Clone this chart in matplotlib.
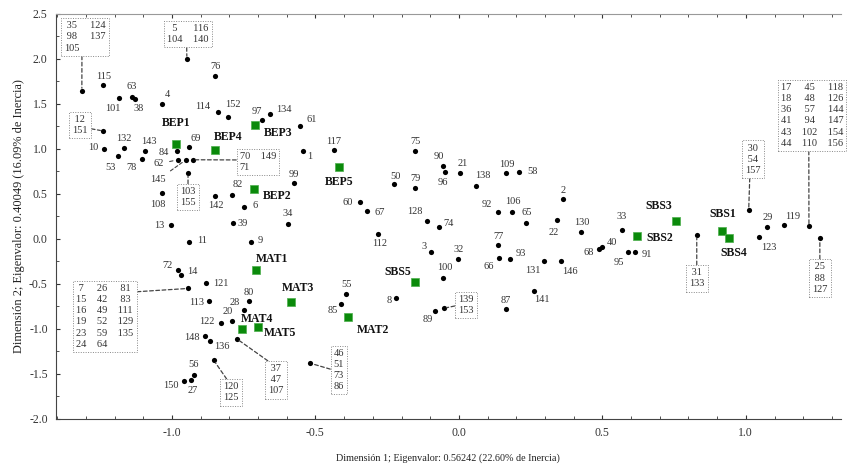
import matplotlib.pyplot as plt
from matplotlib.ticker import MultipleLocator

plt.rcParams['font.family'] = ['Liberation Serif', 'DejaVu Serif']

# puntos individuales (casos)
pt_ids = ['115', '101', '63', '38', '4', '76', '114', '152', '97', '134', '61', '1',
          '117', '99', '6', '34', '9', '39', '82', '142', '108', '84', '69', '10',
          '132', '53', '143', '78', '13', '11', '72', '14', '121', '113', '80', '28',
          '20', '122', '148', '136', '56', '27', '150', '55', '85', '8', '100', '32',
          '89', '66', '87', '75', '90', '96', '21', '138', '109', '58', '79', '50',
          '60', '67', '112', '128', '74', '3', '92', '106', '65', '77', '93', '2',
          '22', '130', '131', '146', '141', '33', '68', '40', '95', '91', '123', '29',
          '119', '62', '145']
pt_x = [-1.240, -1.185, -1.139, -1.129, -1.035, -0.850, -0.840, -0.805, -0.686, -0.659,
        -0.554, -0.543, -0.436, -0.575, -0.749, -0.596, -0.725, -0.787, -0.791, -0.850,
        -1.035, -0.983, -0.941, -1.237, -1.167, -1.188, -1.094, -1.105, -1.003, -0.941,
        -0.979, -0.969, -0.882, -0.871, -0.732, -0.749, -0.791, -0.829, -0.885, -0.868,
        -0.923, -0.934, -0.958, -0.394, -0.411, -0.220, -0.056, -0.003, -0.084, 0.139,
        0.164, -0.153, -0.056, -0.049, 0.003, 0.059, 0.164, 0.209, -0.153, -0.226,
        -0.345, -0.321, -0.282, -0.111, -0.070, -0.098, 0.136, 0.185, 0.233, 0.136,
        0.178, 0.362, 0.341, 0.425, 0.296, 0.355, 0.261, 0.568, 0.488, 0.498,
        0.589, 0.613, 1.045, 1.073, 1.132, -0.979, -0.951]
pt_y = [1.71, 1.57, 1.58, 1.56, 1.50, 1.81, 1.41, 1.36, 1.32, 1.39,
        1.26, 0.98, 0.99, 0.62, 0.36, 0.17, -0.03, 0.18, 0.49, 0.48,
        0.51, 0.98, 1.02, 1.00, 1.01, 0.92, 0.98, 0.89, 0.15, -0.03,
        -0.35, -0.40, -0.49, -0.69, -0.69, -0.79, -0.91, -0.93, -1.08, -1.13,
        -1.51, -1.57, -1.58, -0.61, -0.72, -0.66, -0.43, -0.22, -0.80, -0.21,
        -0.78, 0.98, 0.81, 0.74, 0.73, 0.59, 0.73, 0.74, 0.57, 0.61,
        0.41, 0.31, 0.06, 0.20, 0.13, -0.15, 0.30, 0.30, 0.18, -0.07,
        -0.22, 0.44, 0.21, 0.08, -0.25, -0.25, -0.58, 0.10, -0.11, -0.09,
        -0.15, -0.15, 0.02, 0.13, 0.15, 0.88, 0.88]

# posicion de las etiquetas (pixeles respecto al punto)
pt_off = {'115': (1, 9), '101': (-6, -11), '63': (0, 10), '38': (4, -10), '4': (5, 9),
          '76': (1, 10), '114': (-15, 6), '152': (5, 12), '97': (-5, 9), '134': (14, 4),
          '61': (12, 6), '1': (7, -6), '117': (0, 8), '99': (0, 9), '6': (11, 1),
          '34': (0, 10), '9': (9, 1), '39': (10, -1), '82': (6, 10), '142': (1, -10),
          '108': (-4, -11), '84': (-13, -2), '69': (7, 9), '10': (-11, 1), '132': (0, 10),
          '53': (-8, -11), '143': (4, 9), '78': (-10, -9), '13': (-12, 0), '11': (13, 1),
          '72': (-10, 5), '14': (11, 3), '121': (15, 0), '113': (-12, -1), '80': (0, 9),
          '28': (-9, 8), '20': (-4, 9), '122': (-14, 1), '148': (-13, -1), '136': (12, -6),
          '56': (0, 10), '27': (2, -10), '150': (-13, -4), '55': (1, 9), '85': (-8, -7),
          '8': (-7, -2), '100': (2, 10), '32': (1, 9), '89': (-7, -9), '66': (-10, -9),
          '87': (0, 9), '75': (1, 9), '90': (-4, 10), '96': (-2, -10), '21': (3, 10),
          '138': (7, 10), '109': (1, 9), '58': (14, 1), '79': (1, 9), '50': (1, 8),
          '60': (-12, 0), '67': (13, -1), '112': (2, -10), '128': (-12, 9), '74': (10, 4),
          '3': (-7, 6), '92': (-11, 7), '106': (1, 10), '65': (1, 10), '77': (1, 9),
          '93': (11, 5), '2': (0, 9), '22': (-3, -12), '130': (1, 9), '131': (-11, -9),
          '146': (9, -10), '141': (8, -8), '33': (0, 13), '68': (-10, -4), '40': (10, 5),
          '95': (-9, -10), '91': (12, -2), '123': (10, -10), '29': (1, 10), '119': (9, 9)}
dash_off = {'62': (-19, -4), '145': (-28, -20)}

# puntos con varios casos superpuestos (recuadros)
box_ids = [['35', '124', '98', '137', '105'],
           ['5', '116', '104', '140'],
           ['12', '151'],
           ['70', '149', '71'],
           ['103', '155'],
           ['7', '26', '81', '15', '42', '83', '16', '49', '111', '19', '52', '129',
            '23', '59', '135', '24', '64'],
           ['120', '125'],
           ['37', '47', '107'],
           ['46', '51', '73', '86'],
           ['139', '153'],
           ['31', '133'],
           ['30', '54', '157'],
           ['25', '88', '127'],
           ['17', '45', '118', '18', '48', '126', '36', '57', '144', '41', '94', '147',
            '43', '102', '154', '44', '110', '156']]
box_ncol = [2, 2, 1, 2, 1, 3, 1, 1, 1, 1, 1, 1, 1, 3]
box_x = [-1.314, -0.948, -1.240, -0.927, -0.944, -0.944, -0.854, -0.774, -0.519,
         -0.052, 0.829, 1.010, 1.258, 1.220]
box_y = [1.645, 2.00, 1.20, 0.88, 0.73, -0.55, -1.35, -1.11, -1.38,
         -0.77, 0.04, 0.32, 0.01, 0.14]
box_off = [(3, 54), (1, 25), (-23, 6), (65, -2), (0, -24), (-83, -28), (17, -32),
           (39, -41), (29, -7), (22, 3), (0, -43), (4, 51), (0, -40), (3, 111)]
box_rel = [(0.43, 0), (0.47, 0), (1, 0.34), (0, 0.59), (0.5, 1), (1, 0.88), (0.38, 1),
           (0.3, 1), (0, 0.5), (0, 0.5), (0.5, 1), (0.32, 0), (0.5, 1), (0.45, 0)]

# categorias (cuadrados verdes)
grp_names = ['BEP1', 'BEP4', 'BEP3', 'BEP5', 'BEP2', 'MAT1', 'MAT3', 'MAT4', 'MAT5',
             'MAT2', 'SBS5', 'SBS3', 'SBS2', 'SBS1', 'SBS4']
grp_x = [-0.986, -0.850, -0.711, -0.418, -0.714, -0.707, -0.585, -0.756, -0.700,
         -0.387, -0.153, 0.756, 0.620, 0.916, 0.941]
grp_y = [1.05, 0.99, 1.27, 0.80, 0.56, -0.34, -0.70, -1.00, -0.98,
         -0.87, -0.48, 0.20, 0.03, 0.09, 0.01]
grp_off = [(0, 21), (13, 13), (23, -8), (0, -15), (23, -7), (16, 11), (7, 14), (15, 10),
           (22, -6), (25, -13), (-17, 10), (-17, 15), (23, -2), (1, 17), (5, -15)]


def grid_text(ids, ncol):
    rows = [ids[i:i + ncol] for i in range(0, len(ids), ncol)]
    widths = [max(len(r[c]) for r in rows if c < len(r)) for c in range(ncol)]
    lines = []
    for r in rows:
        cells = []
        for c, s in enumerate(r):
            pad = ' ' * (widths[c] - len(s))
            cells.append(pad + s + pad)
        lines.append('    '.join(cells))
    return '\n'.join(lines)


fig = plt.figure(figsize=(8.49, 4.66), dpi=100)
ax = fig.add_axes([0.066, 0.101, 0.924, 0.869])

txt_col = '#333333'
ax.scatter(pt_x, pt_y, s=14, color='black', zorder=3, linewidths=0)
ax.scatter(box_x, box_y, s=14, color='black', zorder=3, linewidths=0)
ax.scatter(grp_x, grp_y, s=34, marker='s', color='#0b8a0b', edgecolors='#4caf4c',
           linewidths=0.5, zorder=3)

for name, x, y in zip(pt_ids, pt_x, pt_y):
    if name in pt_off:
        ax.annotate(name, (x, y), xytext=pt_off[name], textcoords='offset pixels',
                    ha='center', va='center', fontsize=7.5, color=txt_col)
    else:
        ax.annotate(name, (x, y), xytext=dash_off[name], textcoords='offset pixels',
                    ha='center', va='center', fontsize=7.5, color=txt_col,
                    arrowprops=dict(arrowstyle='-', linestyle=(0, (3, 2)), color='#444444',
                                    lw=0.8, shrinkA=2, shrinkB=3))

for ids, nc, x, y, off, rel in zip(box_ids, box_ncol, box_x, box_y, box_off, box_rel):
    ax.annotate(grid_text(ids, nc), (x, y), xytext=off, textcoords='offset pixels',
                ha='center', va='center', fontsize=7.5, color=txt_col,
                multialignment='left', linespacing=1.3,
                bbox=dict(boxstyle='square,pad=0.3', fc='white', ec='#888888',
                          ls=(0, (1, 1.5)), lw=0.7),
                arrowprops=dict(arrowstyle='-', linestyle=(0, (3, 2)), color='#444444',
                                lw=0.9, relpos=rel, shrinkA=0, shrinkB=2))

for name, x, y, off in zip(grp_names, grp_x, grp_y, grp_off):
    ax.annotate(name, (x, y), xytext=off, textcoords='offset pixels',
                ha='center', va='center', fontsize=8.5, fontweight='bold', color='#111111')

ax.set_xlim(-1.404, 1.33)
ax.set_ylim(-2.0, 2.5)
ax.xaxis.set_major_locator(MultipleLocator(0.5))
ax.xaxis.set_minor_locator(MultipleLocator(0.1))
ax.yaxis.set_major_locator(MultipleLocator(0.5))
ax.yaxis.set_minor_locator(MultipleLocator(0.25))
ax.xaxis.set_major_formatter(plt.FormatStrFormatter('%.1f'))
ax.yaxis.set_major_formatter(plt.FormatStrFormatter('%.1f'))
ax.tick_params(which='both', direction='in', top=True, right=False, labelsize=8.5,
               colors='#333333', pad=6)
ax.tick_params(which='major', length=3)
ax.tick_params(which='minor', length=2)
ax.spines['right'].set_visible(False)
for s in ['left', 'bottom']:
    ax.spines[s].set_color('#444444')
ax.spines['top'].set_color('#999999')

ax.set_xlabel('Dimensión 1; Eigenvalor: 0.56242 (22.60% de Inercia)', fontsize=7.3,
              color='#222222', labelpad=10)
ax.set_ylabel('Dimensión 2; Eigenvalor: 0.40049 (16.09% de Inercia)', fontsize=8.9,
              color='#222222', labelpad=3)

plt.savefig('out.png', dpi=100)
